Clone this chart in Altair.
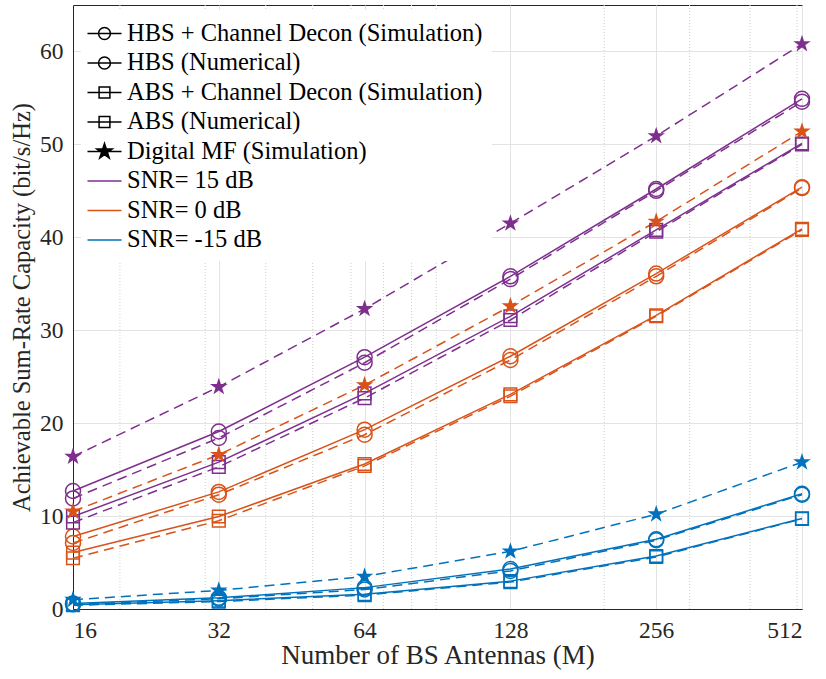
import altair as alt
import pandas as pd

M = [16, 32, 64, 128, 256, 512]
minor_ticks = [20, 30, 40, 50, 60, 70, 80, 90, 200, 300, 400, 500]
y_ticks = [0, 10, 20, 30, 40, 50, 60]

snr_labels = ["SNR= 15 dB", "SNR= 0 dB", "SNR= -15 dB"]
snr_colors = ["#7E2F8E", "#D95319", "#0072BD"]

# SNR = 15 dB
hbs_sim_15 = [11.9, 18.4, 26.5, 35.5, 45.0, 54.6]
hbs_num_15 = [12.7, 19.1, 27.1, 35.8, 45.2, 54.9]
abs_sim_15 = [9.3, 15.3, 22.7, 31.1, 40.6, 50.0]
abs_num_15 = [9.95, 15.8, 23.2, 31.5, 40.8, 50.1]
mf_15 = [16.4, 23.9, 32.3, 41.5, 50.9, 60.8]
# SNR = 0 dB
hbs_sim_0 = [7.1, 12.3, 18.75, 26.8, 35.8, 45.3]
hbs_num_0 = [7.8, 12.6, 19.3, 27.2, 36.1, 45.4]
abs_sim_0 = [5.46, 9.5, 15.4, 22.9, 31.5, 40.8]
abs_num_0 = [6.07, 9.95, 15.6, 23.1, 31.6, 40.9]
mf_0 = [10.5, 16.6, 24.1, 32.6, 41.7, 51.4]
# SNR = -15 dB
hbs_sim_m15 = [0.5, 1.1, 2.1, 4.1, 7.4, 12.3]
hbs_num_m15 = [0.6, 1.2, 2.3, 4.3, 7.5, 12.4]
abs_sim_m15 = [0.4, 0.8, 1.5, 2.9, 5.6, 9.7]
abs_num_m15 = [0.45, 0.9, 1.6, 3.0, 5.7, 9.75]
mf_m15 = [1.0, 2.0, 3.5, 6.2, 10.2, 15.8]

legend_labels = [
    "HBS + Channel Decon (Simulation)",
    "HBS (Numerical)",
    "ABS + Channel Decon (Simulation)",
    "ABS (Numerical)",
    "Digital MF (Simulation)",
    "SNR= 15 dB",
    "SNR= 0 dB",
    "SNR= -15 dB",
]

series_def = [
    ("SNR= 15 dB", "hbs_sim", "circle", "dashed", hbs_sim_15),
    ("SNR= 15 dB", "hbs_num", "circle", "solid", hbs_num_15),
    ("SNR= 15 dB", "abs_sim", "square", "dashed", abs_sim_15),
    ("SNR= 15 dB", "abs_num", "square", "solid", abs_num_15),
    ("SNR= 15 dB", "mf", "star", "dashed", mf_15),
    ("SNR= 0 dB", "hbs_sim", "circle", "dashed", hbs_sim_0),
    ("SNR= 0 dB", "hbs_num", "circle", "solid", hbs_num_0),
    ("SNR= 0 dB", "abs_sim", "square", "dashed", abs_sim_0),
    ("SNR= 0 dB", "abs_num", "square", "solid", abs_num_0),
    ("SNR= 0 dB", "mf", "star", "dashed", mf_0),
    ("SNR= -15 dB", "hbs_sim", "circle", "dashed", hbs_sim_m15),
    ("SNR= -15 dB", "hbs_num", "circle", "solid", hbs_num_m15),
    ("SNR= -15 dB", "abs_sim", "square", "dashed", abs_sim_m15),
    ("SNR= -15 dB", "abs_num", "square", "solid", abs_num_m15),
    ("SNR= -15 dB", "mf", "star", "dashed", mf_m15),
]

rows = []
for snr, name, marker, style, vals in series_def:
    for m, v in zip(M, vals):
        rows.append({"M": m, "value": v, "snr": snr, "series": snr + "|" + name,
                     "marker": marker, "style": style})
df = pd.DataFrame(rows)

FONT = "'Liberation Serif', 'Times New Roman', Tinos, 'DejaVu Serif', serif"
TXT = "#262626"

xscale = alt.Scale(type="log", base=2, domain=[16, 512], nice=False)
yscale = alt.Scale(domain=[0, 65], nice=False)

x_axis = alt.Axis(values=M, format="d", title="Number of BS Antennas (M)", grid=True,
                  ticks=False, labelPadding=9, titlePadding=1, titleFontSize=27,
                  orient="bottom")
y_axis = alt.Axis(values=y_ticks, format="d", title="Achievable Sum-Rate Capacity (bit/s/Hz)",
                  grid=True, ticks=False, labelPadding=10, titlePadding=5, titleFontSize=24.5,
                  orient="left")
x_enc = alt.X("M:Q", scale=xscale, axis=x_axis)
y_enc = alt.Y("value:Q", scale=yscale, axis=y_axis)
color_enc = alt.Color("snr:N", scale=alt.Scale(domain=snr_labels, range=snr_colors), legend=None)

base = alt.Chart(df)

minor = alt.Chart(pd.DataFrame({"M": minor_ticks})).mark_rule(
    color="#cfcfcf", strokeDash=[1, 2], strokeWidth=1
).encode(x=alt.X("M:Q", scale=xscale, axis=x_axis))

solid_lines = base.transform_filter(alt.datum.style == "solid").mark_line(strokeWidth=1.5).encode(
    x=x_enc, y=y_enc, color=color_enc, detail="series:N",
)
dashed_lines = base.transform_filter(alt.datum.style == "dashed").mark_line(
    strokeWidth=1.5, strokeDash=[10, 6]
).encode(x=x_enc, y=y_enc, color=color_enc, detail="series:N")

circles = base.transform_filter(alt.datum.marker == "circle").mark_point(
    shape="circle", size=225, strokeWidth=1.5, filled=False, opacity=1
).encode(x=x_enc, y=y_enc, color=color_enc)

squares = base.transform_filter(alt.datum.marker == "square").mark_point(
    shape="square", size=160, strokeWidth=1.5, filled=False, opacity=1
).encode(x=x_enc, y=y_enc, color=color_enc)

star_path = ("M0,-1L0.2245,-0.309L0.951,-0.309L0.363,0.118L0.588,0.809L0,0.382"
             "L-0.588,0.809L-0.363,0.118L-0.951,-0.309L-0.2245,-0.309Z")
stars = base.transform_filter(alt.datum.marker == "star").mark_point(
    shape=star_path, size=340, filled=True, opacity=1
).encode(x=x_enc, y=y_enc, color=color_enc)

# legend symbols (line + marker) as custom paths
circ = "M-1.26,0H1.26M0.44,0A0.44,0.44 0 1,1 -0.44,0A0.44,0.44 0 1,1 0.44,0"
sqr = "M-1.26,0H1.26M-0.4,-0.4H0.4V0.4H-0.4Z"
star = ("M-1.26,0H1.26M0,-0.6L0.135,-0.185L0.571,-0.185L0.218,0.071L0.353,0.485L0,0.229"
        "L-0.353,0.485L-0.218,0.071L-0.571,-0.185L-0.135,-0.185Z")
line = "M-1.26,0H1.26"
shape_range = [circ, circ, sqr, sqr, star, line, line, line]
stroke_range = ["black"] * 5 + snr_colors
fill_range = ["transparent"] * 4 + ["black"] + ["transparent"] * 3

leg = alt.Legend(title=None, orient="none", legendX=8, legendY=5, fillColor="white",
                 padding=9, labelFont=FONT, labelFontSize=24.5, labelColor="black",
                 labelLimit=800, symbolSize=729, symbolStrokeWidth=1.5, rowPadding=3.5,
                 labelOffset=8, symbolOpacity=1)

legend_df = pd.DataFrame({"label": legend_labels, "M": [16] * len(legend_labels),
                          "value": [-30] * len(legend_labels)})
legend_layer = alt.Chart(legend_df).mark_point(
    clip=True, size=729, strokeWidth=1.5, opacity=1
).encode(
    x=alt.X("M:Q", scale=xscale, axis=x_axis),
    y=alt.Y("value:Q", scale=yscale, axis=y_axis),
    shape=alt.Shape("label:N", scale=alt.Scale(domain=legend_labels, range=shape_range), legend=leg),
    stroke=alt.Stroke("label:N", scale=alt.Scale(domain=legend_labels, range=stroke_range), legend=leg),
    fill=alt.Fill("label:N", scale=alt.Scale(domain=legend_labels, range=fill_range), legend=leg),
)

chart = alt.layer(minor, solid_lines, dashed_lines, circles, squares, stars, legend_layer).properties(
    width=729, height=604,
    autosize=alt.AutoSizeParams(type="none"),
    padding={"left": 73, "top": 5, "right": 24, "bottom": 70},
    background="white",
).configure_view(
    stroke=TXT, strokeWidth=1
).configure_axis(
    labelFont=FONT, labelFontSize=23.5, labelColor=TXT,
    titleFont=FONT, titleFontWeight="normal", titleColor=TXT,
    domainColor=TXT, gridColor="#e3e3e3", gridWidth=1,
)

chart.save("out.html", embed_options={"renderer": "svg", "actions": False})
